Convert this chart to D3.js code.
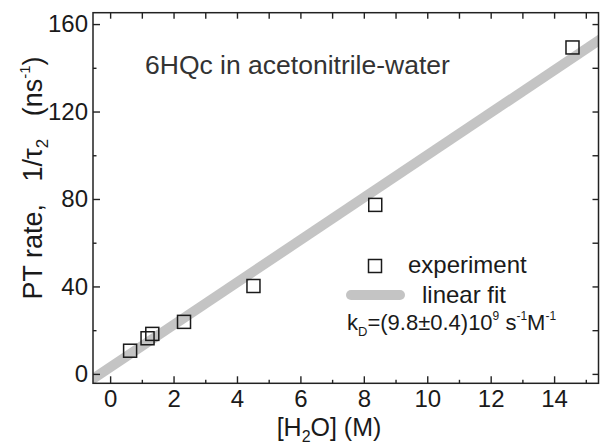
<!DOCTYPE html>
<html>
<head>
<meta charset="utf-8">
<script src="https://cdn.jsdelivr.net/npm/d3@7"></script>
<style>
  body { margin: 0; background: #fff; }
  svg { font-family: "Liberation Sans", Arial, sans-serif; }
  .tick text { fill: #1a1a1a; }
</style>
</head>
<body>
<div id="chart"></div>
<script>
// measured points: water concentration (M) vs proton-transfer rate (ns^-1)
var waterConc = [0.63, 1.18, 1.33, 2.33, 4.52, 8.36, 14.58];
var ptRate = [10.6, 16.3, 18.3, 23.8, 40.2, 77.3, 149.3];

// end points of the linear fit line
var fitX = [-0.6, 15.5];
var fitY = [-2.8, 153.4];

var xMajor = [0, 2, 4, 6, 8, 10, 12, 14];
var xMinor = [1, 3, 5, 7, 9, 11, 13, 15];
var yMajor = [0, 40, 80, 120, 160];
var yMinor = [20, 60, 100, 140];

var width = 601
var height = 444
// plot frame edges (note: "top" is a reserved window global, so use other names)
var plotL = 93, plotR = 598.5, plotT = 12.7, plotB = 383.3

var x = d3.scaleLinear().domain([-0.54, 15.4]).range([plotL, plotR])
var y = d3.scaleLinear().domain([-4.3, 165.2]).range([plotB, plotT])

var svg = d3.select("#chart")
    .append("svg")
    .attr("width", width)
    .attr("height", height)

svg.append("clipPath")
    .attr("id", "plotclip")
    .append("rect")
    .attr("x", plotL)
    .attr("y", plotT)
    .attr("width", plotR - plotL)
    .attr("height", plotB - plotT)

// fit line (thick light grey band)
svg.append("line")
    .attr("clip-path", "url(#plotclip)")
    .attr("x1", x(fitX[0])).attr("y1", y(fitY[0]))
    .attr("x2", x(fitX[1])).attr("y2", y(fitY[1]))
    .attr("stroke", "#c4c4c4")
    .attr("stroke-width", 10)

// axes: ticks point inward
function styleAxis(g) {
    g.select(".domain").remove()
    g.selectAll(".tick line").attr("stroke", "#222").attr("stroke-width", 1.4)
    g.selectAll(".tick text").attr("font-size", 24)
}

svg.append("g")
    .attr("transform", "translate(0," + plotB + ")")
    .call(d3.axisBottom(x).tickValues(xMajor).tickSize(-7).tickPadding(7).tickSizeOuter(0))
    .call(styleAxis)
svg.append("g")
    .attr("transform", "translate(0," + plotB + ")")
    .call(d3.axisBottom(x).tickValues(xMinor).tickSize(-3.5).tickFormat("").tickSizeOuter(0))
    .call(styleAxis)
svg.append("g")
    .attr("transform", "translate(" + plotL + ",0)")
    .call(d3.axisLeft(y).tickValues(yMajor).tickSize(-7).tickPadding(5).tickSizeOuter(0))
    .call(styleAxis)
svg.append("g")
    .attr("transform", "translate(" + plotL + ",0)")
    .call(d3.axisLeft(y).tickValues(yMinor).tickSize(-3.5).tickFormat("").tickSizeOuter(0))
    .call(styleAxis)
svg.append("g")
    .attr("transform", "translate(0," + plotT + ")")
    .call(d3.axisTop(x).tickValues(xMajor.concat(xMinor)).tickSize(-6).tickFormat("").tickSizeOuter(0))
    .call(styleAxis)
svg.append("g")
    .attr("transform", "translate(" + plotR + ",0)")
    .call(d3.axisRight(y).tickValues(yMajor.concat(yMinor)).tickSize(-6).tickFormat("").tickSizeOuter(0))
    .call(styleAxis)

// frame
svg.append("rect")
    .attr("x", plotL).attr("y", plotT)
    .attr("width", plotR - plotL).attr("height", plotB - plotT)
    .attr("fill", "none")
    .attr("stroke", "#222")
    .attr("stroke-width", 1.5)

// data squares
var sq = 13
svg.selectAll("rect.pt")
    .data(waterConc)
    .enter()
    .append("rect")
    .attr("class", "pt")
    .attr("x", (d) => x(d) - sq / 2)
    .attr("y", (d, i) => y(ptRate[i]) - sq / 2)
    .attr("width", sq)
    .attr("height", sq)
    .attr("fill", "none")
    .attr("stroke", "#1a1a1a")
    .attr("stroke-width", 1.5)

// axis titles
var xt = svg.append("text")
    .attr("x", 329)
    .attr("y", 436)
    .attr("text-anchor", "middle")
    .attr("font-size", 25)
    .attr("fill", "#1a1a1a")
xt.append("tspan").text("[H")
xt.append("tspan").attr("font-size", 16).attr("dy", 6).text("2")
xt.append("tspan").attr("dy", -6).text("O] (M)")

var yt = svg.append("text")
    .attr("transform", "translate(42,178) rotate(-90)")
    .attr("text-anchor", "middle")
    .attr("font-size", 27)
    .attr("fill", "#1a1a1a")
    .attr("xml:space", "preserve")
yt.append("tspan").text("PT rate,   1/\u03c4")
yt.append("tspan").attr("font-size", 17).attr("dy", 6).text("2")
yt.append("tspan").attr("dy", -6).text("   (ns")
yt.append("tspan").attr("font-size", 15).attr("dy", -12).text("-1")
yt.append("tspan").attr("dy", 12).text(")")

// annotation
svg.append("text")
    .attr("x", 145)
    .attr("y", 74)
    .attr("font-size", 26.5)
    .attr("fill", "#333")
    .text("6HQc in acetonitrile-water")

// legend
svg.append("rect")
    .attr("x", 375 - sq / 2).attr("y", 266 - sq / 2)
    .attr("width", sq).attr("height", sq)
    .attr("fill", "none")
    .attr("stroke", "#1a1a1a")
    .attr("stroke-width", 1.5)
svg.append("text")
    .attr("x", 408).attr("y", 273)
    .attr("font-size", 24)
    .attr("fill", "#1a1a1a")
    .text("experiment")
svg.append("line")
    .attr("x1", 351).attr("y1", 295)
    .attr("x2", 400).attr("y2", 295)
    .attr("stroke", "#c4c4c4")
    .attr("stroke-width", 10)
    .attr("stroke-linecap", "round")
svg.append("text")
    .attr("x", 422).attr("y", 303)
    .attr("font-size", 24)
    .attr("fill", "#1a1a1a")
    .text("linear fit")

var kd = svg.append("text")
    .attr("x", 347).attr("y", 330)
    .attr("font-size", 22)
    .attr("fill", "#1a1a1a")
    .attr("xml:space", "preserve")
kd.append("tspan").text("k")
kd.append("tspan").attr("font-size", 13).attr("dy", 6).text("D")
kd.append("tspan").attr("dy", -6).text("=(9.8\u00b10.4)10")
kd.append("tspan").attr("font-size", 12).attr("dy", -10).text("9")
kd.append("tspan").attr("dy", 10).text(" s")
kd.append("tspan").attr("font-size", 12).attr("dy", -10).text("-1")
kd.append("tspan").attr("dy", 10).text("M")
kd.append("tspan").attr("font-size", 12).attr("dy", -10).text("-1")
</script>
</body>
</html>
